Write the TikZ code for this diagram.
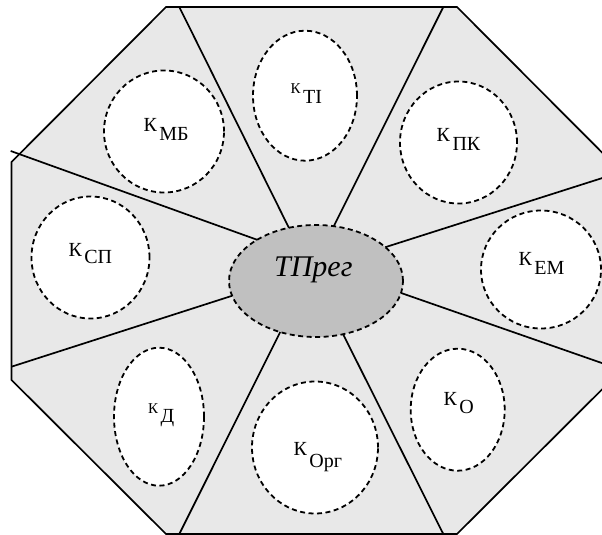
\documentclass[tikz,border=0pt]{standalone}
\usepackage{fontspec}
\setmainfont{Liberation Serif}
\usetikzlibrary{shapes.geometric}
\definecolor{octfill}{HTML}{E8E8E8}
\definecolor{hubfill}{HTML}{C0C0C0}
\newcommand{\ksub}[2][-9pt]{\kern2.5pt\raisebox{#1}{#2}}
\begin{document}
\begin{tikzpicture}[x=1pt,y=-1pt,
  spoke/.style={line width=1.7pt, black},
  dashell/.style={ellipse, draw, dash pattern=on 5pt off 3.5pt, line width=1.8pt, fill=white, inner sep=0pt, outer sep=0pt},
  klabel/.style={anchor=base west, inner sep=0pt, font=\fontsize{20}{20}\selectfont}
  ]
\useasboundingbox (0,0) rectangle (602,535);
\clip (0,0) rectangle (602,535);
% octagon
\draw[spoke, fill=octfill] (166,7) -- (457,7) -- (611.5,162) -- (611.5,380) -- (457,534) -- (166,534) -- (11.5,380) -- (11.5,162) -- cycle;
% outer ends of spokes
\coordinate (o1) at (179.3,7);
\coordinate (o2) at (443.3,7);
\coordinate (o3) at (10.7,151);
\coordinate (o4) at (11.5,366.7);
\coordinate (o5) at (179.3,534);
\coordinate (o6) at (443.3,534);
\coordinate (o7) at (611.5,366.4);
\coordinate (o8) at (611.5,175.1);
% hub
\node[dashell, fill=hubfill, minimum width=174pt, minimum height=112pt] (hub) at (316,281) {};
\node[anchor=base, inner sep=0pt, font=\fontsize{30}{30}\selectfont\itshape] (hubt) at (313.3,276.7) {ТПрег};
% spokes
\draw[spoke] (hub.117) -- (o1);
\draw[spoke] (hub.72.5) -- (o2);
\draw[spoke] (hub.145.1) -- (o3);
\draw[spoke] (hub.190.9) -- (o4);
\draw[spoke] (hub.235.5) -- (o5);
\draw[spoke] (hub.297.3) -- (o6);
\draw[spoke] (hub.352.9) -- (o7);
\draw[spoke] (hub.26) -- (o8);
% small ellipses
\node[dashell, minimum width=120pt, minimum height=122pt] (mb) at (164,131.5) {};
\node[dashell, minimum width=104pt, minimum height=130pt] (ti) at (305,95.7) {};
\node[dashell, minimum width=117pt, minimum height=122pt] (pk) at (458.5,142.5) {};
\node[dashell, minimum width=118pt, minimum height=122pt] (sp) at (90.5,257.5) {};
\node[dashell, minimum width=120pt, minimum height=118pt] (em) at (541,269.5) {};
\node[dashell, minimum width=90pt, minimum height=138pt] (d) at (159,416.7) {};
\node[dashell, minimum width=126pt, minimum height=132pt] (org) at (315,447.5) {};
\node[dashell, minimum width=94pt, minimum height=122pt] (o) at (457.7,409.7) {};
% labels
\node[klabel] (mbl) at (143.3,131.7) {К\ksub{МБ}};
\node[klabel] (til) at (290.4,93.3) {{\fontsize{15}{15}\selectfont К}\ksub[-10pt]{TI}};
\node[klabel] (pkl) at (436.5,141.7) {К\ksub{ПК}};
\node[klabel] (spl) at (68.3,256.7) {К\ksub[-7pt]{СП}};
\node[klabel] (eml) at (518.3,265) {К\ksub{ЕМ}};
\node[klabel] (dl) at (148,413.3) {{\fontsize{15}{15}\selectfont К}\ksub[-9pt]{Д}};
\node[klabel] (ol) at (443.3,405) {К\ksub[-8pt]{О}};
\node[klabel] (orgl) at (293.3,455) {К\ksub[-12pt]{Орг}};
\end{tikzpicture}
\end{document}
